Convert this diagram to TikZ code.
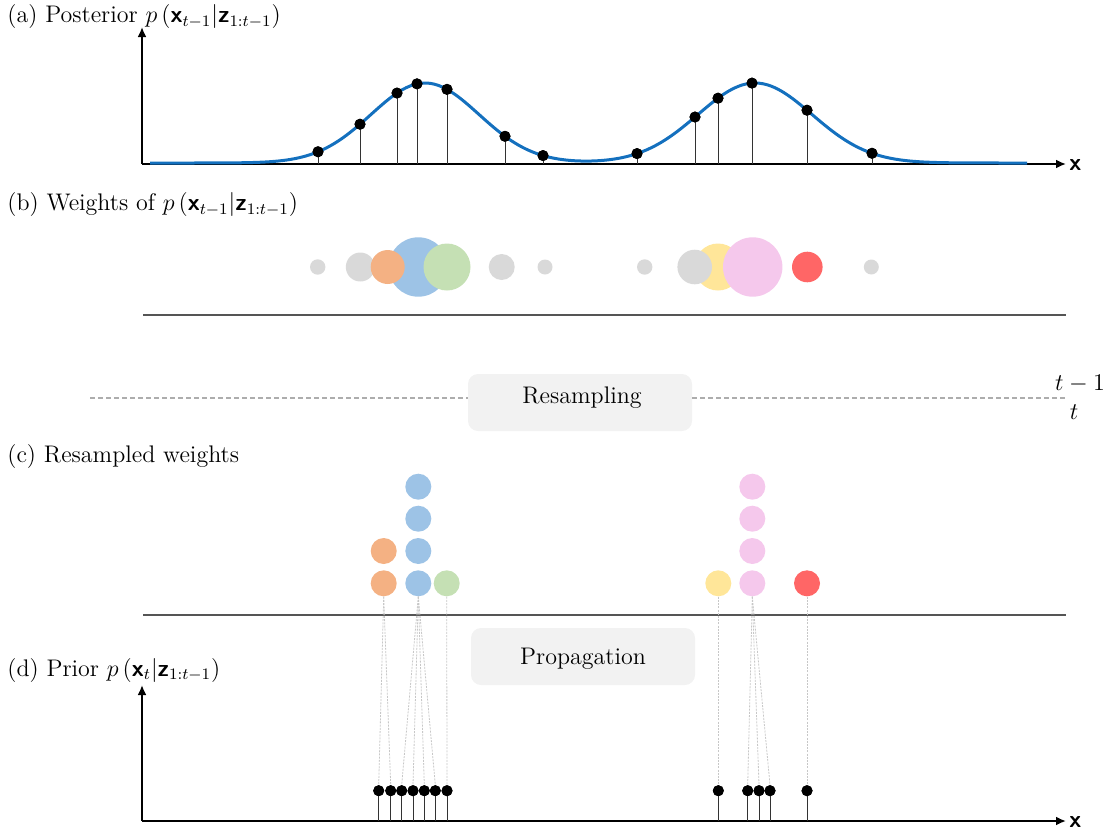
\documentclass[tikz,border=0pt]{standalone}
\usepackage{amsmath}
\usetikzlibrary{arrows.meta}
\definecolor{curveblue}{RGB}{20,112,190}
\definecolor{wgray}{HTML}{D9D9D9}
\definecolor{worange}{HTML}{F4B183}
\definecolor{wblue}{HTML}{9DC3E6}
\definecolor{wgreen}{HTML}{C5E0B4}
\definecolor{wyellow}{HTML}{FFE699}
\definecolor{wpink}{HTML}{F5C8EC}
\definecolor{wred}{HTML}{FF6666}
\definecolor{rule}{HTML}{555555}
\definecolor{boxfill}{HTML}{F2F2F2}
\newcommand{\vx}{\textbf{\textsf{x}}}
\newcommand{\vz}{\textbf{\textsf{z}}}
% posterior density: two Gaussian bumps above the baseline
\pgfmathdeclarefunction{post}{1}{%
  \pgfmathparse{163-80*exp(-0.5*((#1-425)/54)^2)-80*exp(-0.5*((#1-755)/57)^2)}%
}
\begin{document}
\begin{tikzpicture}[x=0.5pt,y=-0.5pt,
  every node/.style={font=\fontsize{12}{14}\selectfont},
  axis/.style={line width=1pt,-{Latex[length=5pt,width=4.5pt]}},
  axislabel/.style={anchor=west,inner sep=0pt,font=\fontsize{12}{14}\selectfont\sffamily\bfseries},
  panel/.style={anchor=west,inner sep=0pt},
  dot/.style={circle,fill=black,inner sep=0pt,minimum size=5.5pt},
  stem/.style={line width=0.5pt,draw=black!80},
  wt/.style={circle,inner sep=0pt,draw=none},
  rs/.style={circle,inner sep=0pt,minimum size=13pt,draw=none},
  sep/.style={line width=0.75pt,draw=rule},
  stage/.style={fill=boxfill,rounded corners=5pt,minimum width=112pt,minimum height=28.5pt,inner sep=0pt},
  stagetext/.style={inner sep=0pt},
  trace/.style={line width=0.4pt,draw=black!22,dash pattern=on 1pt off 0.6pt},
  split/.style={line width=0.75pt,draw=black!32,dash pattern=on 2.5pt off 1.5pt},
]
\useasboundingbox (0,0) rectangle (1106,830);

% ---------------- (a) posterior ----------------
\node[panel] (la) at (7,17) {(a) Posterior $p\left(\vx_{t-1}|\vz_{1:t-1}\right)$};
\coordinate (ao) at (142,164);
\coordinate (ay) at (142,27);
\coordinate (ax) at (1066,164);
\draw[axis] (ao) -- (ay);
\draw[axis] (ao) -- (ax);
\node[axislabel] (axl) at (1069,165) {x};
\draw[curveblue,line width=1.5pt] plot[domain=150:1027,samples=220,smooth] (\x,{post(\x)});
\foreach \px [count=\i] in {318,360,397,417,447,505,543,637,695,718,752,807,872}{
  \pgfmathsetmacro\py{post(\px)}
  \node[dot] (a\i) at (\px,\py) {};
  \draw[stem] (a\i.center) -- (a\i |- ao);
  \node[dot] at (a\i) {};
}

% ---------------- (b) weights ----------------
\node[panel] (lb) at (7,205) {(b) Weights of $p\left(\vx_{t-1}|\vz_{1:t-1}\right)$};
\node[wt,fill=wgray,minimum size=7.7pt] (w1) at (317.7,267) {};
\node[wt,fill=wgray,minimum size=14.5pt] (w2) at (360.3,267) {};
\node[wt,fill=wblue,minimum size=29.7pt] (w4) at (418.3,267) {};
\node[wt,fill=worange,minimum size=17pt] (w3) at (387.7,267) {};
\node[wt,fill=wgreen,minimum size=23.5pt] (w5) at (447,267) {};
\node[wt,fill=wgray,minimum size=13pt] (w6) at (501.7,267) {};
\node[wt,fill=wgray,minimum size=7.5pt] (w7) at (545,267) {};
\node[wt,fill=wgray,minimum size=7.7pt] (w8) at (644.7,267) {};
\node[wt,fill=wyellow,minimum size=23.5pt] (w10) at (718,267) {};
\node[wt,fill=wgray,minimum size=17.3pt] (w9) at (694.7,267) {};
\node[wt,fill=wpink,minimum size=29.7pt] (w11) at (752.7,267) {};
\node[wt,fill=wred,minimum size=15.3pt] (w12) at (807.3,267) {};
\node[wt,fill=wgray,minimum size=7.5pt] (w13) at (871.3,267) {};
\coordinate (s1a) at (143,315);
\coordinate (s1b) at (1066,315);
\draw[sep] (s1a) -- (s1b);

% ---------------- resampling step ----------------
\node[stage] (resample) at (580,402.5) {};
\node[stagetext] (resampletxt) at (582,398) {Resampling};
\coordinate (dl) at (90,398);
\coordinate (dr) at (1068,398);
\draw[split] (dl) -- (dl -| resample.west);
\draw[split] (dr -| resample.east) -- (dr);
\node (tm) at (1080,384) {$t-1$};
\node (tt) at (1074,412) {$t$};

% ---------------- (c) resampled weights ----------------
\node[panel] (lc) at (7,457) {(c) Resampled weights};
\node[rs,fill=worange] (o1) at (383.7,583.3) {};
\node[rs,fill=worange] (o2) at (383.7,551) {};
\foreach \k/\yy in {1/583.3,2/551,3/518.7,4/486.7}{
  \node[rs,fill=wblue] (b\k) at (418.3,\yy) {};
  \node[rs,fill=wpink] (p\k) at (752.3,\yy) {};
}
\node[rs,fill=wgreen] (g1) at (446.7,583.3) {};
\node[rs,fill=wyellow] (y1) at (718.3,583.3) {};
\node[rs,fill=wred] (r1) at (807,583.3) {};
\coordinate (s2a) at (143,615);
\coordinate (s2b) at (1066,615);
\draw[sep] (s2a) -- (s2b);

% ---------------- propagation step ----------------
\node[stage] (propagate) at (583,656.5) {};
\node[stagetext] (propagatetxt) at (583,659) {Propagation};

% ---------------- (d) prior ----------------
\node[panel] (ld) at (7,670) {(d) Prior $p\left(\vx_{t}|\vz_{1:t-1}\right)$};
\coordinate (do) at (142,821);
\coordinate (dy) at (142,685);
\coordinate (dx) at (1066,821);
\draw[axis] (do) -- (dy);
\draw[axis] (do) -- (dx);
\node[axislabel] (dxl) at (1069,822) {x};
\foreach \px [count=\i] in {378.7,390.7,401.7,413,424.3,435.3,447,718.3,747.7,759,770,807}{
  \node[dot] (d\i) at (\px,790.7) {};
  \draw[stem] (d\i.center) -- (d\i |- do);
  \node[dot] at (d\i) {};
}
% propagation traces from each resampled particle to its new position
\foreach \src/\dst in {o1/d1,o1/d2,b1/d3,b1/d4,b1/d5,b1/d6,g1/d7,y1/d8,p1/d9,p1/d10,p1/d11,r1/d12}{
  \draw[trace] (\src.south) -- (\dst.north);
}
\end{tikzpicture}
\end{document}
